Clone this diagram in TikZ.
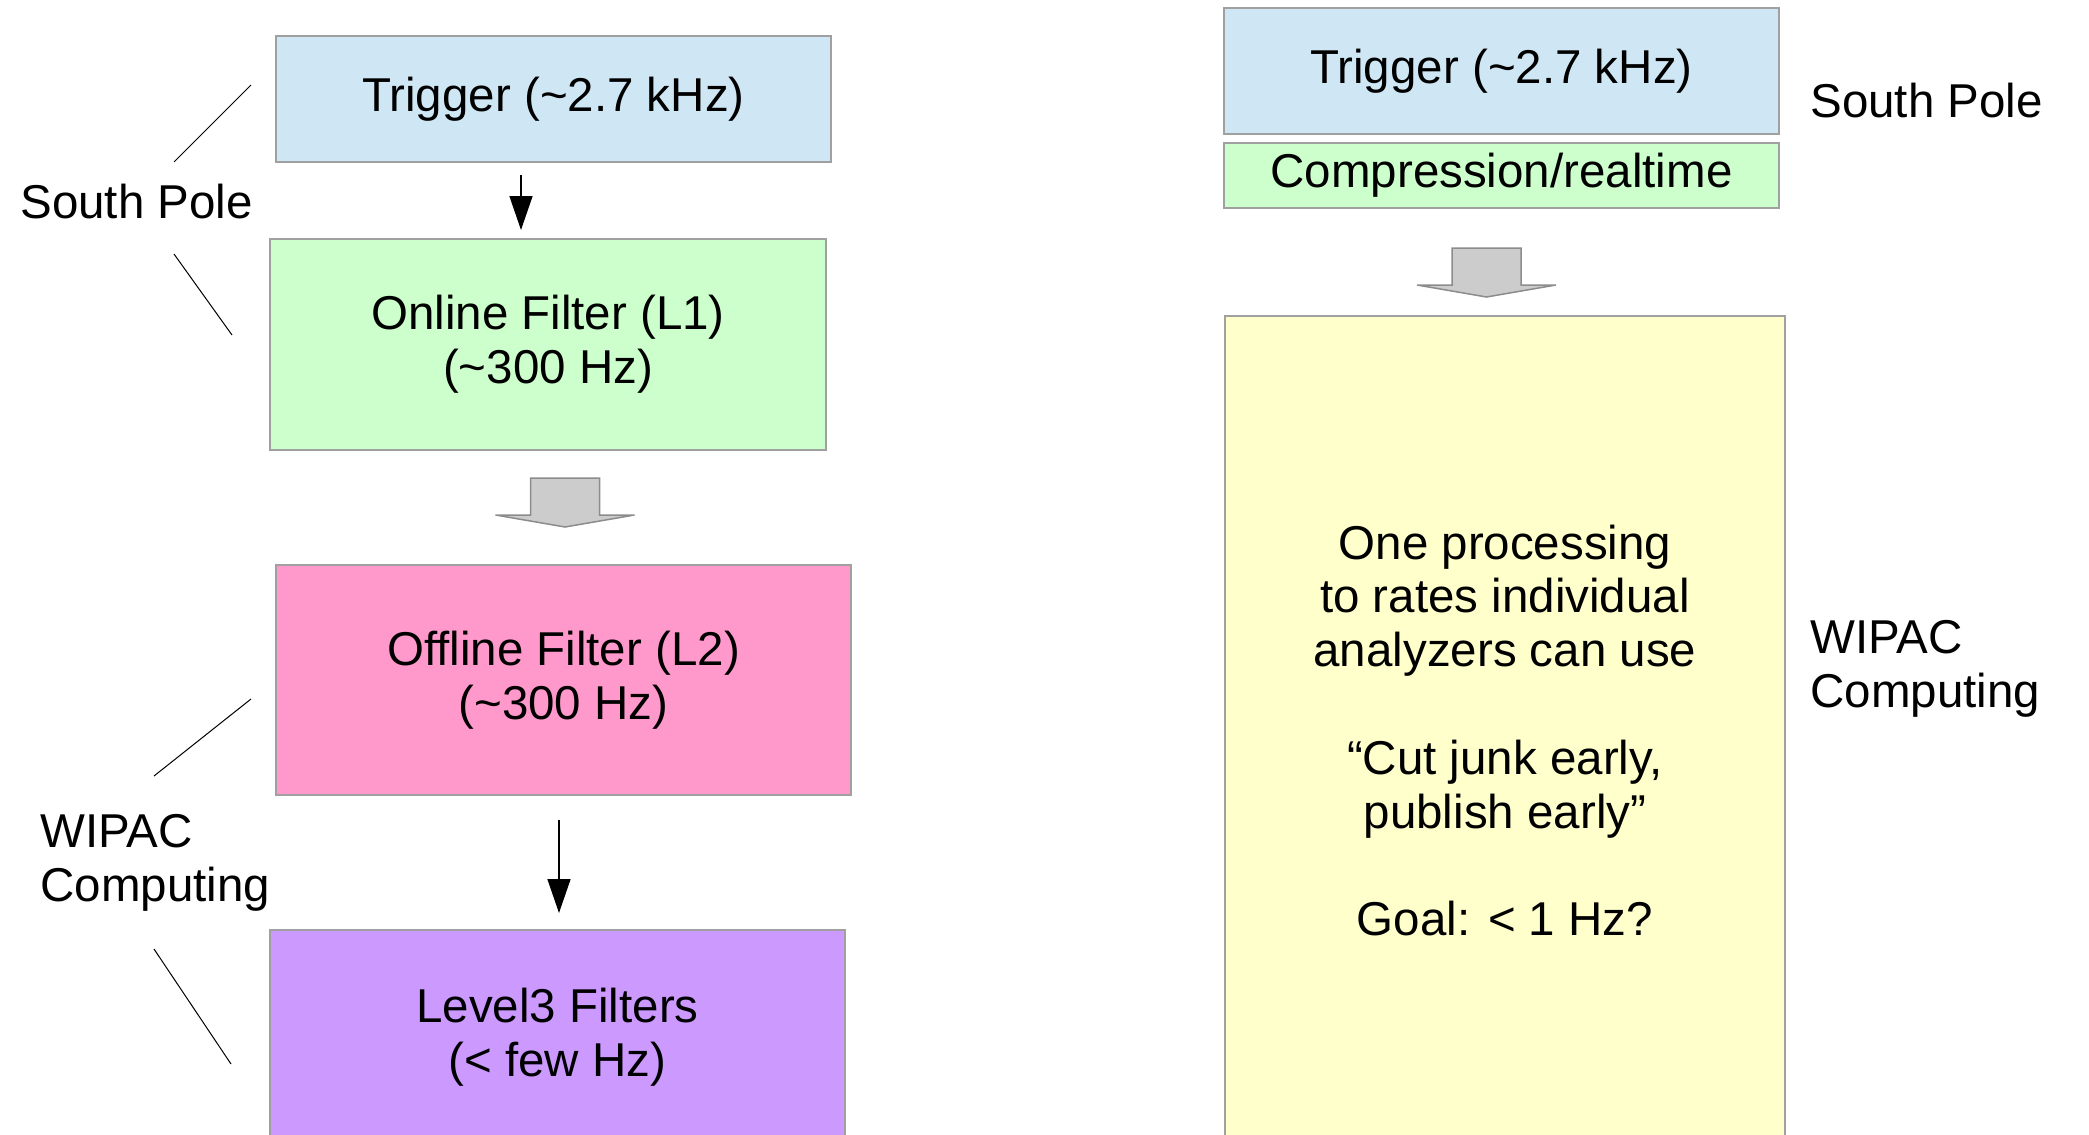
\documentclass[tikz,border=0pt]{standalone}
\usepackage{fontspec}
\setmainfont{Liberation Sans}
\usetikzlibrary{arrows.meta}
\definecolor{trigblue}{HTML}{CFE7F5}
\definecolor{filtgreen}{HTML}{CCFFCC}
\definecolor{filtpink}{HTML}{FF99CC}
\definecolor{filtpurple}{HTML}{CC99FF}
\definecolor{procyellow}{HTML}{FFFFCC}
\definecolor{boxgray}{HTML}{A0A0A0}
\definecolor{arrgray}{HTML}{CCCCCC}
\definecolor{arrline}{HTML}{8C8C8C}
\tikzset{
  stagebox/.style={draw=boxgray,line width=1pt,align=center,inner sep=0pt},
  thinarrow/.style={-{Triangle[width=11.5pt,length=17pt]},line width=0.75pt},
  pointer/.style={line width=0.5pt},
  blockarr/.style={fill=arrgray,draw=arrline,line width=0.75pt,line join=miter}
}
\begin{document}
\begin{tikzpicture}[x=0.5pt,y=-0.5pt,font=\fontsize{23.75}{26.9}\selectfont]
  \useasboundingbox (0,0) rectangle (2089,1135);
  % left chain
  \node[stagebox,fill=trigblue,minimum width=277.5pt,minimum height=63pt] (trigL) at (553.5,99) {Trigger (\textasciitilde2.7 kHz)};
  \node[stagebox,fill=filtgreen,minimum width=278pt,minimum height=105.5pt] (onlL) at (548,344.5) {Online Filter (L1)\\(\textasciitilde300 Hz)};
  \node[stagebox,fill=filtpink,minimum width=287.5pt,minimum height=115pt] (offL) at (563.5,680) {Offline Filter (L2)\\(\textasciitilde300 Hz)};
  \node[stagebox,fill=filtpurple,minimum width=287.5pt,minimum height=107.5pt] (lvl3) at (557.5,1037.5) {Level3 Filters\\(< few Hz)};
  % right chain
  \node[stagebox,fill=trigblue,minimum width=277.5pt,minimum height=63pt] (trigR) at (1501.5,71) {Trigger (\textasciitilde2.7 kHz)};
  \node[stagebox,fill=filtgreen,minimum width=277.5pt,minimum height=32.5pt] (compR) at (1501.5,175.5) {Compression/realtime};
  \node[stagebox,fill=procyellow,minimum width=280pt,minimum height=414.5pt] (procR) at (1505,730.5)
    {One processing\\to rates individual\\analyzers can use\\ \\“Cut junk early,\\ publish early”\\ \\Goal: < 1 Hz?};
  % site labels
  \node[anchor=base west,inner sep=0pt] (spL) at (20,218) {South Pole};
  \node[anchor=west,align=left,inner sep=0pt] (wcL) at (40,862.5) {WIPAC\\Computing};
  \node[anchor=base west,inner sep=0pt] (spR) at (1810,117) {South Pole};
  \node[anchor=west,align=left,inner sep=0pt] (wcR) at (1810,669) {WIPAC\\Computing};
  \draw[pointer] (251,85) -- (174,162);
  \draw[pointer] (174,254) -- (232,335);
  \draw[pointer] (251,699) -- (154,776);
  \draw[pointer] (154,949) -- (231,1064);
  % arrows
  \draw[thinarrow] ([xshift=-16.25pt,yshift=-6pt]trigL.south) -- ([xshift=-13.5pt,yshift=4pt]onlL.north);
  \draw[thinarrow] ([xshift=-2.25pt,yshift=-12pt]offL.south) -- ([xshift=0.75pt,yshift=8pt]lvl3.north);
  \coordinate (g1) at ([xshift=8.5pt,yshift=-13.5pt]onlL.south);
  \coordinate (g2) at ([xshift=-7.5pt,yshift=-19.5pt]compR.south);
  \foreach \g in {g1,g2}
    \draw[blockarr] (\g) ++(-34.5,0) -- ++(69,0) -- ++(0,37) -- ++(35,0) -- ++(-69.5,12) -- ++(-69.5,-12) -- ++(35,0) -- cycle;
\end{tikzpicture}
\end{document}
